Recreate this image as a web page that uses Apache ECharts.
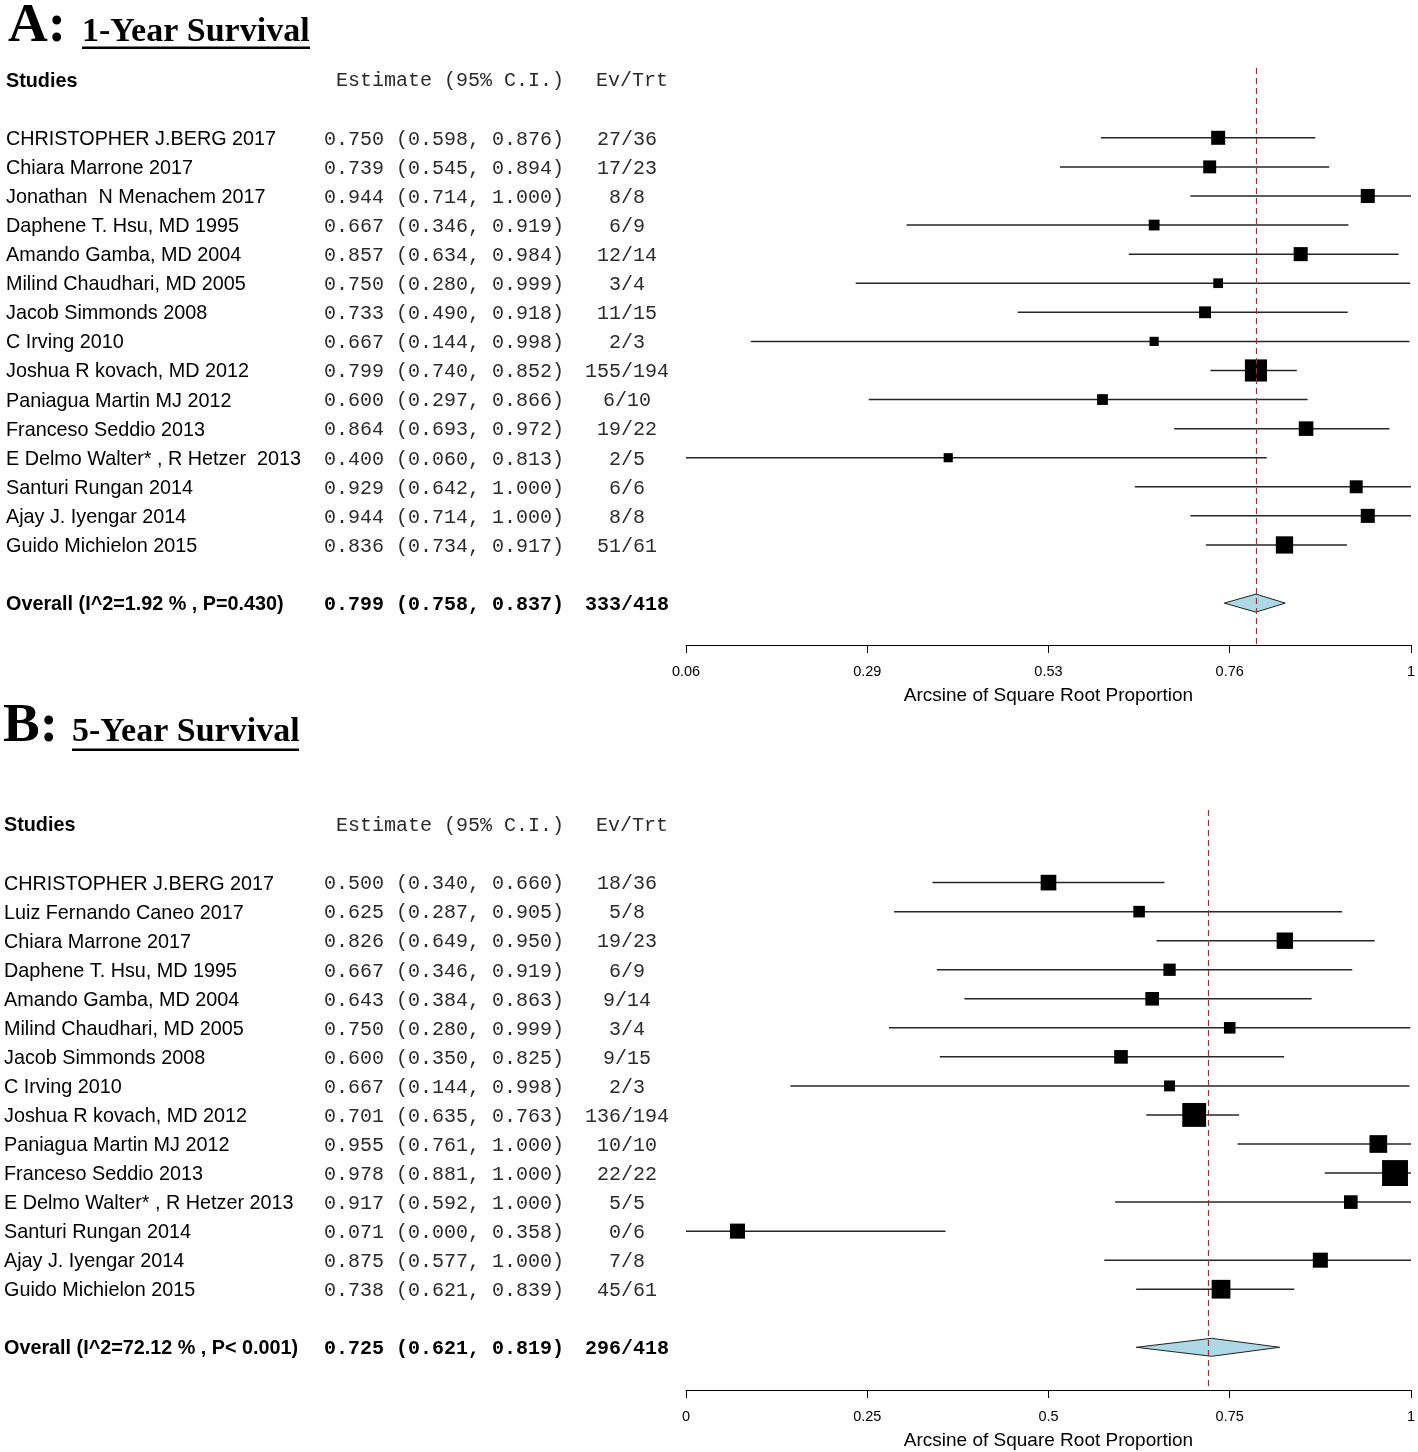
<!DOCTYPE html>
<html><head><meta charset="utf-8">
<script src="https://cdn.jsdelivr.net/npm/echarts@6/dist/echarts.min.js"></script>
<style>html,body{margin:0;padding:0;background:#fff;overflow:hidden}#c{width:1418px;height:1452px}</style>
</head><body><div id="c"></div>
<script>
// ---------- Panel A: 1-Year Survival ----------
const studiesA = ['CHRISTOPHER J.BERG 2017','Chiara Marrone 2017','Jonathan  N Menachem 2017','Daphene T. Hsu, MD 1995','Amando Gamba, MD 2004','Milind Chaudhari, MD 2005','Jacob Simmonds 2008','C Irving 2010','Joshua R kovach, MD 2012','Paniagua Martin MJ 2012','Franceso Seddio 2013','E Delmo Walter* , R Hetzer  2013','Santuri Rungan 2014','Ajay J. Iyengar 2014','Guido Michielon 2015'];
const estA = [0.750,0.739,0.944,0.667,0.857,0.750,0.733,0.667,0.799,0.600,0.864,0.400,0.929,0.944,0.836];
const loA  = [0.598,0.545,0.714,0.346,0.634,0.280,0.490,0.144,0.740,0.297,0.693,0.060,0.642,0.714,0.734];
const hiA  = [0.876,0.894,1.000,0.919,0.984,0.999,0.918,0.998,0.852,0.866,0.972,0.813,1.000,1.000,0.917];
const evA  = [27,17,8,6,12,3,11,2,155,6,19,2,6,8,51];
const trtA = [36,23,8,9,14,4,15,3,194,10,22,5,6,8,61];
const weightA = [7.14,6.08,7.14,4.22,7.14,3.42,5.11,3.05,17.75,4.22,7.70,3.05,6.08,7.14,10.81]; // relative weight (%)
const overallLabelA = 'Overall (I^2=1.92 % , P=0.430)';
const overallA = [0.799,0.758,0.837];
const overallEvTrtA = [333,418];
const tickValuesA = [0.06,0.295,0.53,0.765,1];
const tickLabelsA = ['0.06','0.29','0.53','0.76','1'];

// ---------- Panel B: 5-Year Survival ----------
const studiesB = ['CHRISTOPHER J.BERG 2017','Luiz Fernando Caneo 2017','Chiara Marrone 2017','Daphene T. Hsu, MD 1995','Amando Gamba, MD 2004','Milind Chaudhari, MD 2005','Jacob Simmonds 2008','C Irving 2010','Joshua R kovach, MD 2012','Paniagua Martin MJ 2012','Franceso Seddio 2013','E Delmo Walter* , R Hetzer 2013','Santuri Rungan 2014','Ajay J. Iyengar 2014','Guido Michielon 2015'];
const estB = [0.500,0.625,0.826,0.667,0.643,0.750,0.600,0.667,0.701,0.955,0.978,0.917,0.071,0.875,0.738];
const loB  = [0.340,0.287,0.649,0.346,0.384,0.280,0.350,0.144,0.635,0.761,0.881,0.592,0.000,0.577,0.621];
const hiB  = [0.660,0.905,0.950,0.919,0.863,0.999,0.825,0.998,0.763,1.000,1.000,1.000,0.358,1.000,0.839];
const evB  = [18,5,19,6,9,3,9,2,136,10,22,5,0,7,45];
const trtB = [36,8,23,9,14,4,15,3,194,10,22,5,6,8,61];
const weightB = [6.18,3.38,6.77,3.81,4.68,3.38,4.68,3.01,14.35,7.90,16.91,4.68,5.71,5.71,8.85]; // relative weight (%)
const overallLabelB = 'Overall (I^2=72.12 % , P< 0.001)';
const overallB = [0.725,0.621,0.819];
const overallEvTrtB = [296,418];
const tickValuesB = [0,0.25,0.5,0.75,1];
const tickLabelsB = ['0','0.25','0.5','0.75','1'];

const headerCols = ['Studies','Estimate (95% C.I.)','Ev/Trt'];
const axisTitle = 'Arcsine of Square Root Proportion';

// ---------- layout / style ----------
const SANS = '"Liberation Sans", Arial, sans-serif';
const MONO = '"Liberation Mono", "Courier New", monospace';
const SERIF = '"Liberation Serif", "Times New Roman", serif';
const ROW_HEADER = -2, ROW_OVERALL = 16;
const TEXT_DY = 1.5;

const panels = [
  {names:studiesA, est:estA, lo:loA, hi:hiA, ev:evA, trt:trtA, w:weightA, ovLabel:overallLabelA, ov:overallA, ovEv:overallEvTrtA,
   xMin:0.06, xMax:1, ticks:tickValuesA, tickLabels:tickLabelsA, boxScale:5.25, nameX:6,
   grid:{left:686, width:728, top:68, height:577}, yMin:-2.4, yMax:17.44},
  {names:studiesB, est:estB, lo:loB, hi:hiB, ev:evB, trt:trtB, w:weightB, ovLabel:overallLabelB, ov:overallB, ovEv:overallEvTrtB,
   xMin:0, xMax:1, ticks:tickValuesB, tickLabels:tickLabelsB, boxScale:6.3, nameX:4,
   grid:{left:686, width:728, top:810, height:580}, yMin:-2.5, yMax:17.47}
];

const f3 = v => v.toFixed(3);

const grids = [], xAxes = [], yAxes = [], series = [];
panels.forEach((p, k) => {
  grids.push(Object.assign({containLabel:false}, p.grid));
  xAxes.push({
    type:'value', gridIndex:k, min:p.xMin, max:p.xMax, position:'bottom',
    splitLine:{show:false},
    axisLine:{show:true, onZero:false, lineStyle:{color:'#000', width:1}},
    axisTick:{show:true, length:8, inside:false, customValues:p.ticks, lineStyle:{color:'#000', width:1}},
    axisLabel:{show:true, customValues:p.ticks, margin:19, color:'#000', fontSize:14.5, fontFamily:SANS,
      formatter: v => { let b = 0; p.ticks.forEach((t, j) => { if (Math.abs(t - v) < Math.abs(p.ticks[b] - v)) b = j; }); return p.tickLabels[b]; }},
    name:axisTitle, nameLocation:'middle', nameGap:51,
    nameTextStyle:{fontSize:19, color:'#000', fontFamily:SANS, verticalAlign:'middle'}
  });
  yAxes.push({type:'value', gridIndex:k, min:p.yMin, max:p.yMax, inverse:true, show:false});

  // reference (summary) dashed line
  series.push({type:'scatter', xAxisIndex:k, yAxisIndex:k, z:1, silent:true, symbolSize:0,
    data:[[p.ov[0], ROW_OVERALL]],
    markLine:{silent:true, symbol:['none','none'], label:{show:false}, animation:false,
      lineStyle:{color:'#8e3535', width:1.2, type:[6,4]}, data:[{xAxis:p.ov[0]}]}});

  // confidence interval lines
  series.push({type:'custom', xAxisIndex:k, yAxisIndex:k, z:2, silent:true,
    data:p.est.map((e, i) => [e, p.lo[i], p.hi[i], i]),
    encode:{x:[0,1,2], y:3},
    renderItem(params, api){
      const r = api.value(3);
      const a = api.coord([api.value(1), r]), b = api.coord([api.value(2), r]);
      return {type:'line', shape:{x1:a[0], y1:a[1], x2:b[0], y2:b[1]}, style:{stroke:'#262626', lineWidth:1.5}};
    }});

  // study boxes (size from weight)
  series.push({type:'scatter', xAxisIndex:k, yAxisIndex:k, z:3, silent:true, symbol:'rect',
    itemStyle:{color:'#000', opacity:1},
    data:p.est.map((e, i) => ({value:[e, i], symbolSize:p.boxScale * Math.sqrt(p.w[i])}))});

  // summary diamond
  series.push({type:'custom', xAxisIndex:k, yAxisIndex:k, z:3, silent:true,
    data:[[p.ov[0], p.ov[1], p.ov[2], ROW_OVERALL]],
    encode:{x:[0,1,2], y:3},
    renderItem(params, api){
      const r = api.value(3);
      const c = api.coord([api.value(0), r]), l = api.coord([api.value(1), r]), h = api.coord([api.value(2), r]);
      const hh = api.size([0, 1])[1] * 0.31;
      return {type:'polygon', shape:{points:[l, [c[0], c[1] - hh], h, [c[0], c[1] + hh]]},
        style:{fill:'#add8e6', stroke:'#222', lineWidth:1}};
    }});

  // table text
  const rowsText = [ROW_HEADER].concat(p.names.map((_, i) => i), [ROW_OVERALL]);
  series.push({type:'custom', xAxisIndex:k, yAxisIndex:k, z:5, silent:true, clip:false,
    data:rowsText.map(r => [p.xMin, r]),
    encode:{x:0, y:1},
    renderItem(params, api){
      const y = api.coord([api.value(0), api.value(1)])[1] + TEXT_DY;
      const i = params.dataIndex;
      let c1, c2, c3, bold = false, header = false;
      if (i === 0) { c1 = headerCols[0]; c2 = headerCols[1]; c3 = headerCols[2]; header = true; }
      else if (i === rowsText.length - 1) {
        c1 = p.ovLabel; c2 = f3(p.ov[0]) + ' (' + f3(p.ov[1]) + ', ' + f3(p.ov[2]) + ')';
        c3 = p.ovEv[0] + '/' + p.ovEv[1]; bold = true;
      } else {
        const j = i - 1;
        c1 = p.names[j]; c2 = f3(p.est[j]) + ' (' + f3(p.lo[j]) + ', ' + f3(p.hi[j]) + ')';
        c3 = p.ev[j] + '/' + p.trt[j];
      }
      const w1 = (bold || header) ? 'bold ' : '';
      const w2 = bold ? 'bold ' : '';
      const monoFill = bold ? '#000' : '#2b2b2b';
      return {type:'group', children:[
        {type:'text', style:{text:c1, x:p.nameX, y:y, font:w1 + '19.8px ' + SANS, fill:'#000', align:'left', verticalAlign:'middle'}},
        {type:'text', style:{text:c2, x:564, y:y, font:w2 + '20px ' + MONO, fill:monoFill, align:'right', verticalAlign:'middle'}},
        {type:'text', style:{text:c3, x:header ? 632 : 627, y:y, font:w2 + '20px ' + MONO, fill:monoFill, align:'center', verticalAlign:'middle'}}
      ]};
    }});
});

const option = {
  animation:false,
  backgroundColor:'#fff',
  grid:grids, xAxis:xAxes, yAxis:yAxes, series:series,
  graphic:[
    {type:'text', x:8, y:27, style:{text:'A:', font:'bold 55px ' + SERIF, fill:'#000', verticalAlign:'middle'}},
    {type:'text', x:82, y:32, style:{text:'1-Year Survival', font:'bold 34px ' + SERIF, fill:'#000', verticalAlign:'middle'}},
    {type:'rect', shape:{x:82, y:46.5, width:228, height:2.5}, style:{fill:'#000'}},
    {type:'text', x:3, y:727, style:{text:'B:', font:'bold 55px ' + SERIF, fill:'#000', verticalAlign:'middle'}},
    {type:'text', x:72, y:732, style:{text:'5-Year Survival', font:'bold 34px ' + SERIF, fill:'#000', verticalAlign:'middle'}},
    {type:'rect', shape:{x:72, y:748.5, width:227, height:2.5}, style:{fill:'#000'}}
  ]
};
const chart = echarts.init(document.getElementById('c'), null, {renderer:'canvas'});
chart.setOption(option);
</script>
</body></html>
